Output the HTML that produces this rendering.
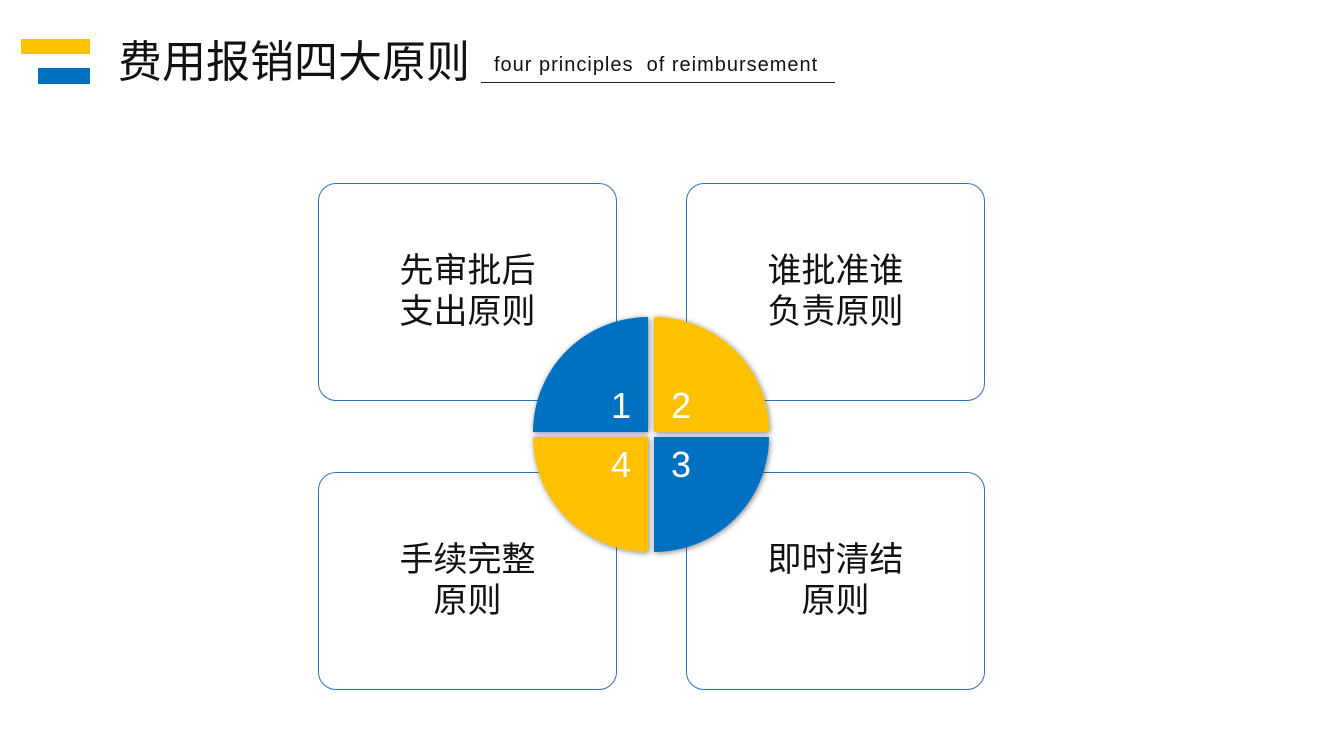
<!DOCTYPE html>
<html><head><meta charset="utf-8"><style>
body{margin:0;width:1344px;height:756px;background:#fff;position:relative;overflow:hidden;font-family:"Liberation Sans","Noto Sans CJK SC",sans-serif}
.b{position:absolute;width:299px;height:218px;border:1px solid #2e75b6;border-radius:18px;box-sizing:border-box;display:flex;align-items:center;justify-content:center;text-align:center;font-size:34px;line-height:41px;color:#111}
</style></head><body>
<div style="position:absolute;left:21px;top:39px;width:69px;height:15px;background:#ffc000"></div>
<div style="position:absolute;left:38px;top:68px;width:52px;height:16px;background:#0070c0"></div>
<div style="position:absolute;left:118px;top:36px;font-size:44px;line-height:54px;color:#111">费用报销四大原则</div>
<div style="position:absolute;left:494px;top:54px;font-size:20px;letter-spacing:1px;color:#111;white-space:nowrap">four principles&nbsp; of reimbursement</div>
<div style="position:absolute;left:481px;top:82px;width:354px;height:1px;background:#222"></div>
<div class="b" style="left:318px;top:183px">先审批后<br>支出原则</div>
<div class="b" style="left:686px;top:183px">谁批准谁<br>负责原则</div>
<div class="b" style="left:318px;top:472px">手续完整<br>原则</div>
<div class="b" style="left:686px;top:472px">即时清结<br>原则</div>
<svg style="position:absolute;left:0;top:0" width="1344" height="756">
<defs><filter id="s" x="-20%" y="-20%" width="140%" height="140%"><feGaussianBlur in="SourceAlpha" stdDeviation="3"/><feOffset dx="1" dy="1"/><feComponentTransfer><feFuncA type="linear" slope="0.5"/></feComponentTransfer><feMerge><feMergeNode/><feMergeNode in="SourceGraphic"/></feMerge></filter></defs>
<g filter="url(#s)">
<path d="M648,432 L533,432 A115,115 0 0 1 648,317 Z" fill="#0070c0"/>
<path d="M654,432 L654,317 A115,115 0 0 1 769,432 Z" fill="#ffc000"/>
<path d="M654,437 L769,437 A115,115 0 0 1 654,552 Z" fill="#0070c0"/>
<path d="M648,437 L648,552 A115,115 0 0 1 533,437 Z" fill="#ffc000"/>
</g>
<g fill="#fff" font-size="36" font-family="Liberation Sans, sans-serif" text-anchor="middle">
<text x="621" y="418">1</text><text x="681" y="418">2</text>
<text x="681" y="477">3</text><text x="621" y="477">4</text>
</g>
</svg>
</body></html>
